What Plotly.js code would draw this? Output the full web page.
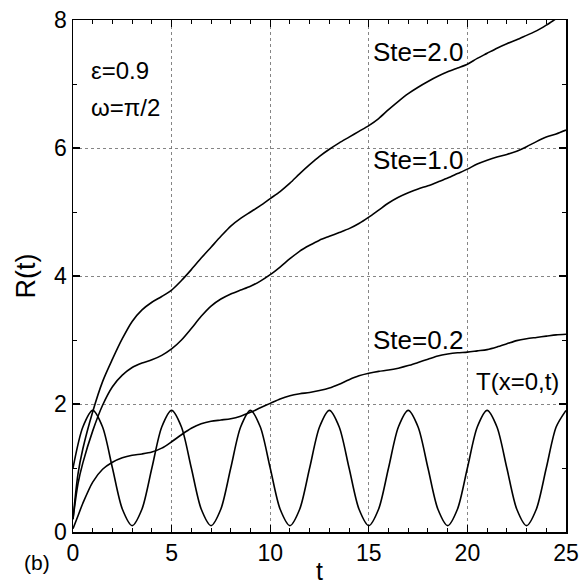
<!DOCTYPE html>
<html>
<head>
<meta charset="utf-8">
<script src="https://cdn.plot.ly/plotly-3.0.1.min.js"></script>
<style>html,body{margin:0;padding:0;background:#fff;}#chart{width:580px;height:585px;}</style>
</head>
<body>
<div id="chart"></div>
<script>
// time grid (half-unit steps)
const tHalf = [0,0.5,1,1.5,2,2.5,3,3.5,4,4.5,5,5.5,6,6.5,7,7.5,8,8.5,9,9.5,10,10.5,11,11.5,12,12.5,13,13.5,14,14.5,15,15.5,16,16.5,17,17.5,18,18.5,19,19.5,20,20.5,21,21.5,22,22.5,23,23.5,24,24.5,25];
// R arrays: t=0, t=0.25, then t=0.5.. in half steps
const tR = [0,0.25,0.5,1,1.5,2,2.5,3,3.5,4,4.5,5,5.5,6,6.5,7,7.5,8,8.5,9,9.5,10,10.5,11,11.5,12,12.5,13,13.5,14,14.5,15,15.5,16,16.5,17,17.5,18,18.5,19,19.5,20,20.5,21,21.5,22,22.5,23,23.5,24,24.5,25];

// R(t), Ste = 2.0
const rSte20 = [0.2,0.9,1.3,1.88,2.35,2.7,3.02,3.29,3.47,3.59,3.68,3.78,3.93,4.1,4.28,4.45,4.62,4.78,4.9,5.0,5.1,5.21,5.32,5.45,5.6,5.74,5.87,5.98,6.08,6.17,6.26,6.35,6.46,6.6,6.73,6.85,6.95,7.04,7.12,7.19,7.25,7.31,7.4,7.48,7.56,7.63,7.69,7.76,7.83,7.92,8.02,8.12];
// R(t), Ste = 1.0
const rSte10 = [0.2,0.75,1.08,1.58,1.98,2.27,2.45,2.57,2.64,2.69,2.76,2.86,3.0,3.18,3.37,3.53,3.64,3.72,3.78,3.84,3.92,4.02,4.14,4.27,4.39,4.48,4.56,4.62,4.68,4.74,4.82,4.92,5.03,5.14,5.23,5.3,5.36,5.41,5.47,5.53,5.6,5.67,5.75,5.81,5.86,5.9,5.95,6.02,6.1,6.17,6.22,6.28];
// R(t), Ste = 0.2
const rSte02 = [0.05,0.25,0.45,0.78,0.98,1.09,1.16,1.2,1.22,1.25,1.31,1.41,1.52,1.62,1.69,1.73,1.75,1.77,1.81,1.87,1.94,2.01,2.08,2.13,2.16,2.18,2.21,2.25,2.31,2.38,2.44,2.48,2.51,2.53,2.56,2.6,2.65,2.7,2.75,2.78,2.8,2.81,2.83,2.85,2.89,2.94,2.99,3.02,3.04,3.06,3.08,3.09];
// T(x=0,t), boundary temperature
const tBound = [1.0,1.64,1.9,1.64,1.0,0.36,0.1,0.36,1.0,1.64,1.9,1.64,1.0,0.36,0.1,0.36,1.0,1.64,1.9,1.64,1.0,0.36,0.1,0.36,1.0,1.64,1.9,1.64,1.0,0.36,0.1,0.36,1.0,1.64,1.9,1.64,1.0,0.36,0.1,0.36,1.0,1.64,1.9,1.64,1.0,0.36,0.1,0.36,1.0,1.64,1.9];

const xTickVals = [0,5,10,15,20,25];
const yTickVals = [0,2,4,6,8];

const line = {color:'#000', width:1.6, shape:'spline', smoothing:0.8};
const traces = [
  {x:tR, y:rSte20, mode:'lines', line:line, name:'Ste=2.0'},
  {x:tR, y:rSte10, mode:'lines', line:line, name:'Ste=1.0'},
  {x:tR, y:rSte02, mode:'lines', line:line, name:'Ste=0.2'},
  {x:tHalf, y:tBound, mode:'lines', line:line, name:'T(x=0,t)'}
];

const fam = 'Liberation Sans, Arial, sans-serif';
const fnt = {family:fam, size:23, color:'#000'};
const axisCommon = {
  showline:true, linecolor:'#000', linewidth:1.5, mirror:'allticks',
  ticks:'inside', ticklen:7, tickwidth:1.2, tickcolor:'#000',
  showgrid:true, gridcolor:'#666', griddash:'dot', gridwidth:0.8,
  zeroline:false, tickfont:fnt
};

const layout = {
  width:580, height:585,
  margin:{l:73, r:14, t:20, b:53},
  paper_bgcolor:'#fff', plot_bgcolor:'#fff',
  showlegend:false,
  font:fnt,
  xaxis: Object.assign({}, axisCommon, {
    range:[0,25], tickvals:xTickVals, ticktext:xTickVals.map(String),
    minor:{dtick:1, ticks:'inside', ticklen:4, tickcolor:'#000', tickwidth:1, showgrid:false},
    title:{text:'t', font:{family:fam, size:25, color:'#000'}, standoff:0}
  }),
  yaxis: Object.assign({}, axisCommon, {
    range:[0,8], tickvals:yTickVals, ticktext:yTickVals.map(String),
    minor:{dtick:1, ticks:'inside', ticklen:4, tickcolor:'#000', tickwidth:1, showgrid:false},
    title:{text:'R(t)', font:{family:fam, size:27, color:'#000'}, standoff:10}
  }),
  annotations:[
    {text:'ε=0.9', x:0.8, y:(532-70)/64, xref:'x', yref:'y', showarrow:false, xanchor:'left', font:{family:fam, size:24}},
    {text:'ω=π/2', x:0.8, y:(532-107)/64, xref:'x', yref:'y', showarrow:false, xanchor:'left', font:{family:fam, size:24}},
    {text:'Ste=2.0', x:15.1, y:(532-52)/64, xref:'x', yref:'y', showarrow:false, xanchor:'left', font:{family:fam, size:26}},
    {text:'Ste=1.0', x:15.1, y:(532-160)/64, xref:'x', yref:'y', showarrow:false, xanchor:'left', font:{family:fam, size:26}},
    {text:'Ste=0.2', x:15.1, y:(532-340)/64, xref:'x', yref:'y', showarrow:false, xanchor:'left', font:{family:fam, size:26}},
    {text:'T(x=0,t)', x:20.35, y:(532-381)/64, xref:'x', yref:'y', showarrow:false, xanchor:'left', font:{family:fam, size:24}},
    {text:'(b)', x:0, y:0, xref:'paper', yref:'paper', showarrow:false, font:{family:fam, size:21}}
  ]
};
layout.annotations[6].x = (22 - 73) / (580 - 73 - 14);
layout.annotations[6].y = (585 - 53 - 576) / (585 - 20 - 53);

Plotly.newPlot('chart', traces, layout, {staticPlot:true, displayModeBar:false});
</script>
</body>
</html>
